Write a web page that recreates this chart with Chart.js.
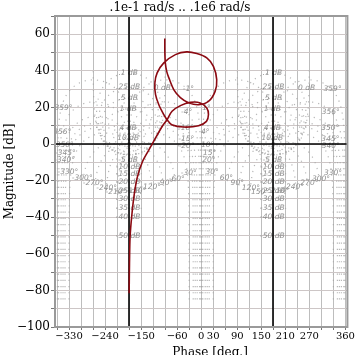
<!DOCTYPE html>
<html><head><meta charset="utf-8">
<script src="https://cdn.jsdelivr.net/npm/chart.js@4.4.1/dist/chart.umd.min.js"></script>
<style>html,body{margin:0;padding:0;background:#fff}</style>
</head><body>
<canvas id="c" width="355" height="355"></canvas>
<script>
// ---- data: open-loop frequency response (phase in deg, magnitude in dB) ----
const PHASE = [-90.9,-90.9,-89.7,-86.0,-81.0,-68.6,-52.0,-31.5,-6.7,18.1,34.7,38.7,30.5,13.9,-10.9,-36.4,-64.4,-93.4,-110.0,-115.7,-114.0,-105.8,-93.4,-85.2,-73.6,-43.9,-6.7,13.1,18.1,13.9,-2.5,-27.3,-52.0,-72.8,-85.2,-97.6,-122.4,-130.6,-147,-159.6,-167.7,-173.4,-177.6,-179.1,-179.9];
const MAG   = [57.7,51.7,44.5,39.6,36.3,29.8,25.4,22.6,21.5,23.3,28.8,35.2,42.5,47.1,49.5,50.4,48.9,44.4,38.9,33.4,27.0,21.5,16.1,13.3,10.6,9.3,10.0,12.4,16.1,19.7,22.5,22.8,21.0,17.9,13.3,9.6,0,-3.2,-9.8,-18.2,-28.3,-39.3,-50.8,-66,-81.5];
const TITLE = ".1e-1 rad/s .. .1e6 rad/s";
const X_TITLE = "Phase [deg.]";
const Y_TITLE = "Magnitude [dB]";
const X_GRID = [-360,-330,-300,-270,-240,-210,-180,-150,-120,-90,-60,-30,0,30,60,90,120,150,180,210,240,270,300,330,360];
const X_TICK_LABELS = [-330,-240,-150,-60,0,30,90,150,210,270,360];
const Y_GRID = [-100,-90,-80,-70,-60,-50,-40,-30,-20,-10,0,10,20,30,40,50,60,70];
const Y_TICK_LABELS = [-100,-80,-60,-40,-20,0,20,40,60];
// Nichols grid levels
const M_CONTOURS_DB = [0.1,0.25,0.5,1,4,10,0,-5,-10,-15,-20,-25,-30,-35,-40,-50];
const N_CONTOURS_DEG = [-1,-4,-10,-15,-20,-30,-60,-90,-120,-150,-210,-240,-270,-300,-330,-340,-345,-350,-356,-359];
// label anchors of the N contours (deg, dB)
const N_LABEL_PHASE = [-32,-36.4,-38,-37.5,-36.4,-31,-61,-90,-126,-163,-213,-236,-270,-297,-333,-341,-339,-344,-350,-347];
const N_LABEL_MAG   = [29.8,17.4,8.6,3,-1,-15.8,-18.9,-21.3,-23.6,-25.8,-26.4,-23.9,-21.1,-18.8,-15.5,-8.7,-5.1,-0.5,6.8,19.7];
const ZERO_DB_LABEL = [-97, 30.5];

const fmt = v => v < 0 ? '\u2212' + Math.abs(v) : String(v);

function cl2ol(M, psi){
  const p = psi*Math.PI/180;
  const a = 1 - M*Math.cos(p), b = -M*Math.sin(p);
  const g = M/Math.hypot(a,b);
  const ph = psi - Math.atan2(b,a)*180/Math.PI;
  return [ph, 20*Math.log10(g)];
}

function contours(){
  const list = [];
  for (const mdb of M_CONTOURS_DB){
    const M = Math.pow(10, mdb/20);
    const pts = [];
    if (mdb > 0){
      for (let psi=-180; psi<=180; psi+=0.05){
        let [ph,db] = cl2ol(M, psi);
        if (ph > 0) ph -= 360;
        pts.push([ph,db]);
      }
    } else if (mdb === 0){
      for (let psi=-0.3; psi>=-359.7; psi-=0.05) pts.push(cl2ol(M, psi));
    } else {
      for (let psi=0; psi>=-360; psi-=0.1){
        const [ph,db] = cl2ol(M, psi);
        if (ph >= -212 && ph <= -148) pts.push([ph,db]); else pts.push(null);
      }
    }
    list.push(pts);
  }
  N_CONTOURS_DEG.forEach((psi, i) => {
    const small = psi >= -30 || psi <= -330;
    const floor = small ? -85 : N_LABEL_MAG[i] - 1.5;
    const pts = [];
    for (let L=-95; L<=45; L+=0.05){
      const [ph,db] = cl2ol(Math.pow(10, L/20), psi);
      pts.push(db >= floor ? [ph,db] : null);
    }
    list.push(pts);
  });
  return list;
}
const CONTOURS = contours();

const nichols = {
  id: 'nichols',
  beforeDatasetsDraw(chart){
    const {ctx, chartArea:a, scales:{x,y}} = chart;
    ctx.save();
    ctx.beginPath(); ctx.rect(a.left, a.top, a.right-a.left, a.bottom-a.top); ctx.clip();
    ctx.strokeStyle = 'rgba(165,165,165,0.8)';
    ctx.lineWidth = 1.2;
    ctx.setLineDash([1.2, 5]);
    for (const shift of [0, 360]){
      for (const pts of CONTOURS){
        ctx.beginPath();
        let pen = false;
        for (const p of pts){
          if (!p || p[1] > 41 || !isFinite(p[1])) { pen = false; continue; }
          const px = x.getPixelForValue(p[0]+shift), py = y.getPixelForValue(p[1]);
          if (pen) ctx.lineTo(px,py); else { ctx.moveTo(px,py); pen = true; }
        }
        ctx.stroke();
      }
    }
    ctx.setLineDash([]);
    // labels
    ctx.font = 'italic 7.5px "DejaVu Sans"';
    ctx.fillStyle = '#8e8e8e';
    ctx.textAlign = 'center'; ctx.textBaseline = 'middle';
    for (const shift of [0, 360]){
      for (const mdb of M_CONTOURS_DB){
        const M = Math.pow(10, mdb/20);
        let txt = (Math.abs(mdb) < 1 && mdb !== 0 ? String(mdb).replace('0.', '.') : String(mdb)) + ' dB';
        let ph = -180, db;
        if (mdb > 0) db = 20*Math.log10(M/(M-1));
        else if (mdb < 0) db = 20*Math.log10(M/(1+M));
        else { ph = ZERO_DB_LABEL[0]; db = ZERO_DB_LABEL[1]; }
        ctx.fillText(txt, x.getPixelForValue(ph+shift) - (mdb===0?0:1), y.getPixelForValue(db));
      }
      N_CONTOURS_DEG.forEach((psi, i) => {
        ctx.fillText((psi+shift) + '\u00b0', x.getPixelForValue(N_LABEL_PHASE[i]+shift), y.getPixelForValue(N_LABEL_MAG[i]));
      });
    }
    // black reference lines
    ctx.strokeStyle = '#000'; ctx.lineWidth = 1.6;
    ctx.beginPath();
    for (const v of [-180, 180]){ const px = Math.round(x.getPixelForValue(v)); ctx.moveTo(px, a.top); ctx.lineTo(px, a.bottom); }
    const py0 = y.getPixelForValue(0);
    ctx.moveTo(a.left, py0); ctx.lineTo(a.right, py0);
    ctx.stroke();
    ctx.restore();
    // frame
    ctx.save();
    ctx.strokeStyle = '#9a9a9a'; ctx.lineWidth = 2;
    ctx.strokeRect(a.left, a.top, a.right-a.left, a.bottom-a.top);
    ctx.restore();
  },
  afterDraw(chart){
    const {ctx, chartArea:a} = chart;
    ctx.save();
    ctx.fillStyle = '#000';
    ctx.font = '12px "DejaVu Serif"';
    ctx.textAlign = 'center'; ctx.textBaseline = 'middle';
    ctx.fillText(TITLE, 180, 8);
    ctx.fillText(X_TITLE, 210, 353);
    ctx.translate(10, (a.top+a.bottom)/2);
    ctx.rotate(-Math.PI/2);
    ctx.fillText(Y_TITLE, 0, 0);
    ctx.restore();
  }
};

new Chart(document.getElementById('c'), {
  type: 'scatter',
  data: { datasets: [{
    data: PHASE.map((p,i) => ({x:p, y:MAG[i]})),
    showLine: true, borderColor: '#8b0a12', borderWidth: 1.6,
    pointRadius: 0, tension: 0.3, fill: false
  }]},
  options: {
    responsive: false, animation: false, devicePixelRatio: 1,
    layout: { padding: { top: 16, right: 5, left: 0, bottom: 0 } },
    plugins: { legend: {display:false}, tooltip: {enabled:false} },
    scales: {
      x: {
        type: 'linear', min: -365, max: 365,
        afterBuildTicks: s => { s.ticks = X_GRID.map(v => ({value:v})); },
        afterFit: s => { s.height = 28; },
        ticks: { autoSkip:false, maxRotation:0, minRotation:0, padding:0, color:'#000',
                 font:{family:'DejaVu Serif', size:10},
                 callback: v => X_TICK_LABELS.includes(v) ? fmt(v) : '' },
        grid: { color:'#bdbdbd', lineWidth:1, tickLength:3, tickColor:'#777' },
        border: { display:false }
      },
      y: {
        type: 'linear', min: -100, max: 70,
        afterBuildTicks: s => { s.ticks = Y_GRID.map(v => ({value:v})); },
        afterFit: s => { s.width = 55; },
        ticks: { autoSkip:false, padding:1, color:'#000',
                 font:{family:'DejaVu Serif', size:12},
                 callback: v => Y_TICK_LABELS.includes(v) ? fmt(v) : '' },
        grid: { color:'#cdc6c6', lineWidth:1, tickLength:4, tickColor:'#777' },
        border: { display:false }
      }
    }
  },
  plugins: [nichols]
});
</script>
</body></html>
